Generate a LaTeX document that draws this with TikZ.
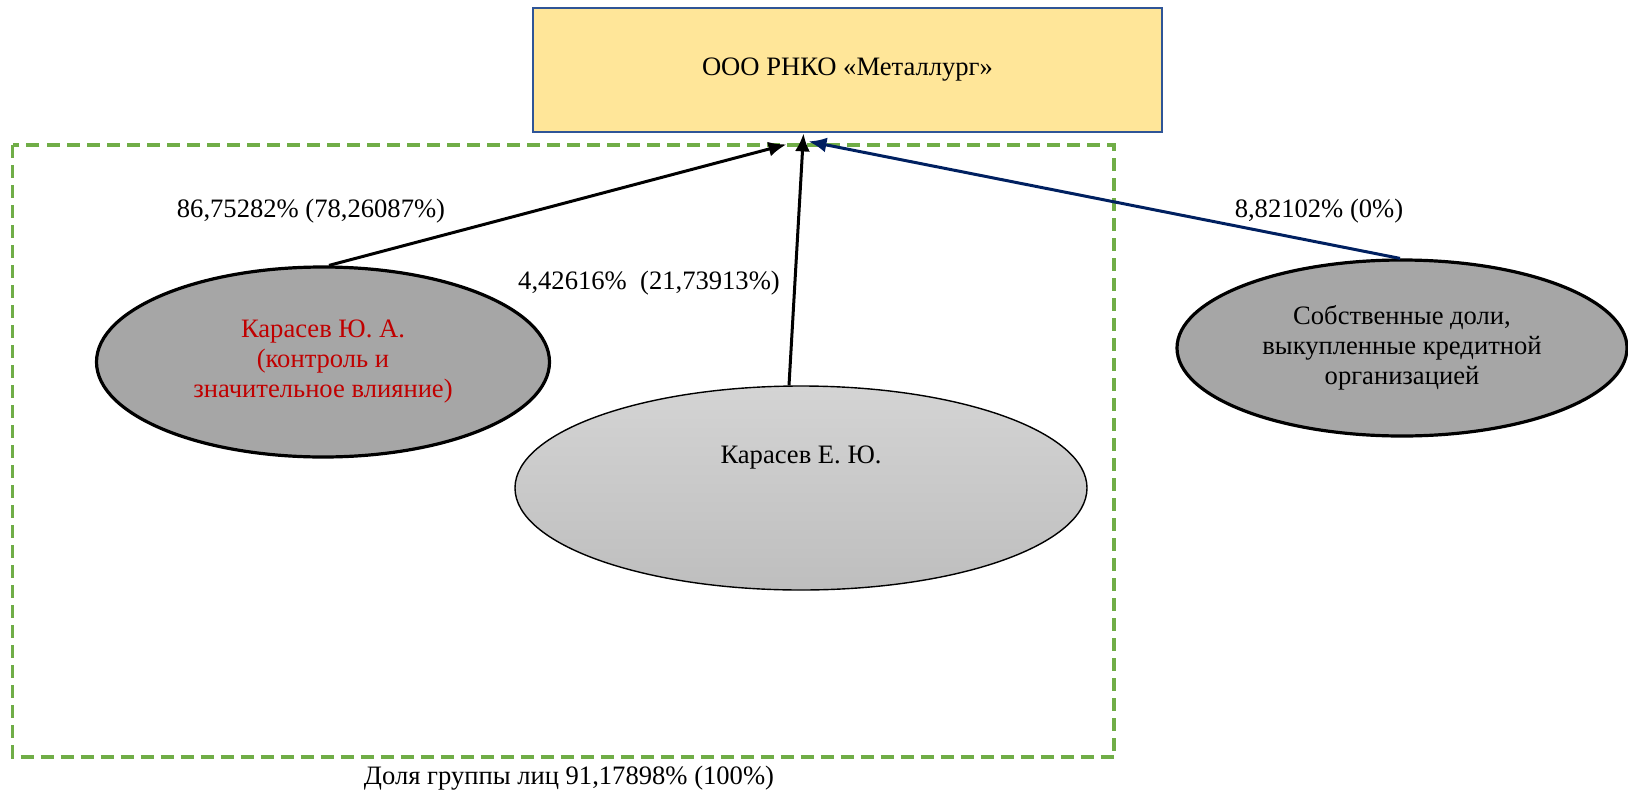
\documentclass[tikz,border=0pt]{standalone}
\usepackage{fontspec}
\setmainfont{Liberation Serif}
\usepackage{tikz}
\usetikzlibrary{arrows.meta}
\usetikzlibrary{shapes.geometric}
\usetikzlibrary{calc}

\definecolor{boxfill}{RGB}{255,230,153}
\definecolor{boxline}{RGB}{47,85,151}
\definecolor{grpgreen}{RGB}{112,173,71}
\definecolor{ownerred}{RGB}{192,0,0}
\definecolor{navyline}{RGB}{0,32,96}

\begin{document}
\begin{tikzpicture}[x=0.5pt,y=-0.5pt]
\tikzstyle{orgbox} = [draw=boxline, line width=1.4pt, fill=boxfill, minimum width=314.5pt, minimum height=62pt, inner sep=0pt]
\tikzstyle{owner} = [ellipse, draw, line width=1.6pt, fill={rgb,255:red,166;green,166;blue,166}, inner sep=0pt, align=center]
\tikzstyle{share} = [-{Latex[length=9pt,width=7.5pt]}, line width=1.5pt]
\fontsize{13.3}{15}\selectfont
\useasboundingbox (0,0) rectangle (1628,793);
\draw[grpgreen, line width=1.8pt, dash pattern=on 6.5pt off 3.5pt] (12.5,145) rectangle (1114,757);
\node[orgbox](rnko) at (847.5,70){ООО РНКО «Металлург»};
\node[owner, minimum width=226.5pt, minimum height=95pt, text=ownerred](kya) at (323,362)
    {Карасев Ю. А.\\(контроль и\\значительное влияние)};
\node[owner, minimum width=286pt, minimum height=102pt, line width=0.7pt, fill=none,
    top color={rgb,255:red,212;green,212;blue,212}, bottom color={rgb,255:red,190;green,190;blue,190},
    label={[yshift=15pt]center:Карасев Е. Ю.}](key) at (801,488){};
\node[owner, minimum width=225pt, minimum height=88pt](own) at (1402,348)
    {Собственные доли,\\выкупленные кредитной\\организацией};
\coordinate(t1) at ($(rnko.south)+(-30.5pt,-5.5pt)$);
\coordinate(t2) at ($(rnko.south)+(-22pt,0pt)$);
\coordinate(t3) at ($(rnko.south)+(-19.5pt,-4pt)$);
\draw[share] ($(kya.north)+(3pt,0)$) -- (t1);
\draw[share] ($(key.north)+(-6pt,0)$) -- (t2);
\draw[share, navyline] ($(own.north)+(-1pt,0)$) -- (t3);
\node(p1) at (311,211){86,75282\% (78,26087\%)};
\node(p2) at (649,283){4,42616\%~~(21,73913\%)};
\node(p3) at (1319,211){8,82102\% (0\%)};
\node(grp) at (569,778){Доля группы лиц 91,17898\% (100\%)};
\end{tikzpicture}
\end{document}
